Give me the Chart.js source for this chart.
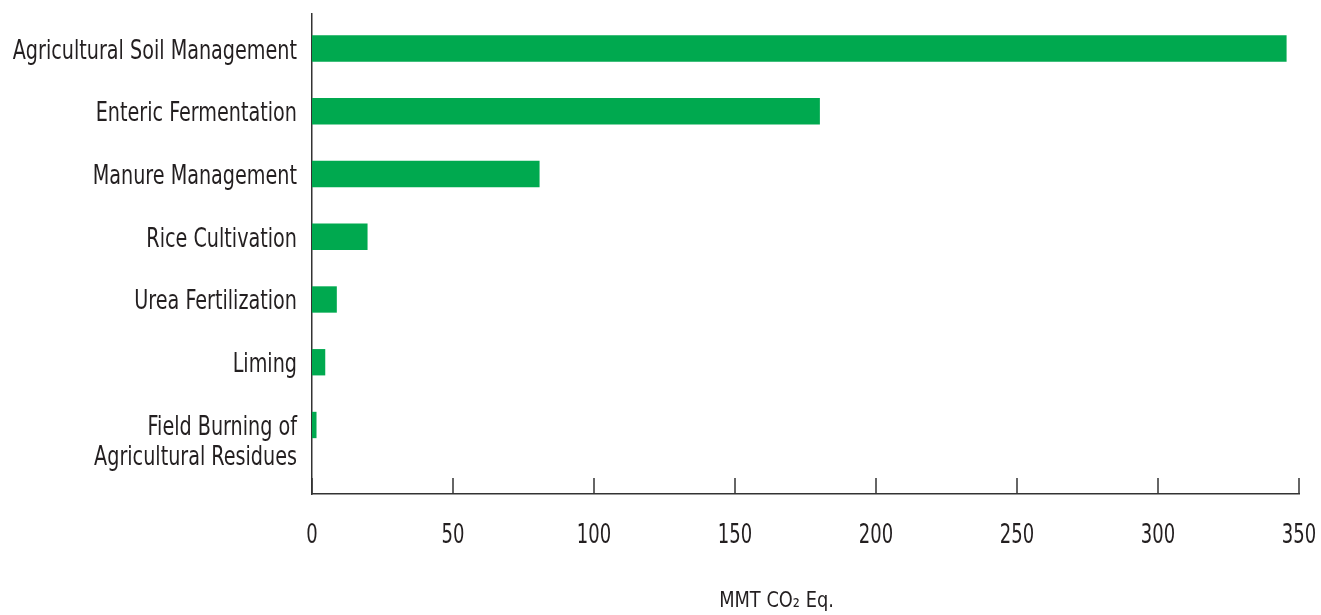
<!DOCTYPE html>
<html>
<head>
<meta charset="utf-8">
<script src="https://cdn.jsdelivr.net/npm/chart.js@4.4.1/dist/chart.umd.min.js"></script>
<style>
  html, body { margin: 0; padding: 0; background: #fff; }
  canvas { display: block; }
</style>
</head>
<body>
<canvas id="emissionsChart" width="1321" height="615"></canvas>
<script>
// Source categories, top to bottom
var categories = [
  'Agricultural Soil Management',
  'Enteric Fermentation',
  'Manure Management',
  'Rice Cultivation',
  'Urea Fertilization',
  'Liming',
  ['Field Burning of', 'Agricultural Residues']
];
// Emissions in MMT CO2 Eq.
var emissions = [345.6, 180.1, 80.7, 19.7, 8.8, 4.7, 1.6];
var xTicks = [0, 50, 100, 150, 200, 250, 300, 350];
var axisTitle = 'MMT CO\u2082 Eq.';

var FONT = "'DejaVu Sans Condensed', 'Liberation Sans Narrow', sans-serif";
var TEXT = '#231f20';
var AXIS = '#333333';

// the original type is a tall condensed face, so squeeze the text sideways
function squeezedText(ctx, text, x, y, sx, align) {
  ctx.save();
  ctx.translate(x, y);
  ctx.scale(sx, 1);
  ctx.textAlign = align;
  ctx.textBaseline = 'alphabetic';
  ctx.fillText(text, 0, 0);
  ctx.restore();
}

// Ticks on the x axis point up into the plot; labels and title are drawn here
var axisDecor = {
  id: 'axisDecor',
  afterDraw: function(chart) {
    var ctx = chart.ctx;
    var xs = chart.scales.x;
    var ys = chart.scales.y;
    var area = chart.chartArea;
    ctx.save();
    ctx.strokeStyle = AXIS;
    ctx.lineWidth = 1.5;
    xs.ticks.forEach(function(t) {
      var px = xs.getPixelForValue(t.value);
      ctx.beginPath();
      ctx.moveTo(px, area.bottom);
      ctx.lineTo(px, area.bottom - 16);
      ctx.stroke();
    });

    ctx.fillStyle = TEXT;
    ctx.font = '26px ' + FONT;
    xs.ticks.forEach(function(t) {
      squeezedText(ctx, String(t.value), xs.getPixelForValue(t.value), area.bottom + 49, 0.77, 'center');
    });

    ys.ticks.forEach(function(t) {
      var label = categories[t.value];
      var lines = Array.isArray(label) ? label : [label];
      var py = ys.getPixelForValue(t.value);
      lines.forEach(function(line, k) {
        squeezedText(ctx, line, area.left - 15, py + 10 + k * 30, 0.82, 'right');
      });
    });

    ctx.font = '22px ' + FONT;
    squeezedText(ctx, axisTitle, (area.left + area.right) / 2 - 29, area.bottom + 113, 0.9, 'center');
    ctx.restore();
  }
};

var points = emissions.map(function(v, i) {
  return { x: v, y: i };
});

new Chart(document.getElementById('emissionsChart'), {
  type: 'bar',
  data: {
    datasets: [{
      data: points,
      backgroundColor: '#00a94f',
      borderWidth: 0,
      barPercentage: 0.42,
      categoryPercentage: 1
    }]
  },
  options: {
    indexAxis: 'y',
    responsive: false,
    animation: false,
    layout: { padding: { top: 14, right: 22, bottom: 0, left: 0 } },
    plugins: {
      legend: { display: false },
      tooltip: { enabled: false }
    },
    scales: {
      x: {
        type: 'linear',
        min: 0,
        max: 350,
        grid: { display: false },
        border: { display: true, color: AXIS, width: 1.5 },
        ticks: { display: false },
        afterBuildTicks: function(scale) {
          scale.ticks = xTicks.map(function(v) { return { value: v }; });
        },
        afterFit: function(scale) {
          scale.height = 121;
          scale.paddingLeft = 0;
          scale.paddingRight = 0;
        }
      },
      y: {
        type: 'linear',
        reverse: true,
        offset: false,
        min: -0.55,
        max: 7.1,
        bounds: 'data',
        grid: { display: false, offset: false },
        border: { display: true, color: AXIS, width: 1.5 },
        ticks: { display: false },
        afterBuildTicks: function(scale) {
          scale.ticks = categories.map(function(c, i) { return { value: i }; });
        },
        afterFit: function(scale) {
          scale.width = 312;
          scale.paddingTop = 0;
          scale.paddingBottom = 0;
        }
      }
    }
  },
  plugins: [axisDecor]
});
</script>
</body>
</html>
